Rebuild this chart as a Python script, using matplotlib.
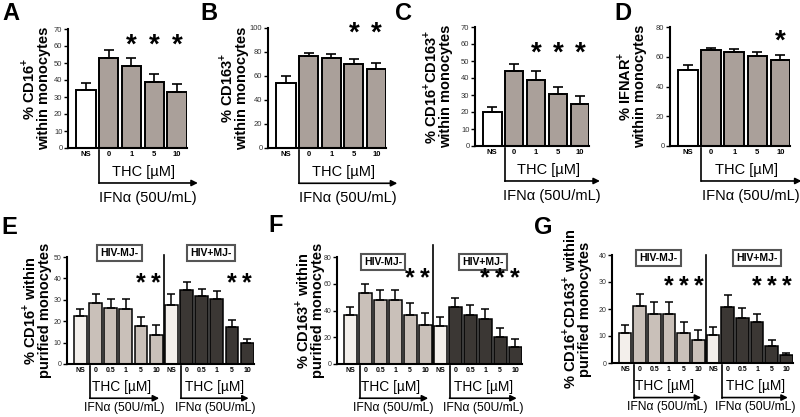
import numpy as np
import matplotlib
matplotlib.use('Agg')
import matplotlib.pyplot as plt
from matplotlib.transforms import ScaledTranslation, blended_transform_factory

plt.rcParams['font.family'] = ['Liberation Sans', 'DejaVu Sans']
plt.rcParams['mathtext.fontset'] = 'custom'
plt.rcParams['mathtext.rm'] = 'Liberation Sans'
plt.rcParams['mathtext.bf'] = 'Liberation Sans:bold'

# ---- data ----
top_cats = ['NS', '0', '1', '5', '10']
a_mean = [34, 53, 48, 39, 33]
a_err = [4, 4.5, 5, 4.5, 4.5]
b_mean = [54, 77, 75, 70, 66]
b_err = [6, 2, 3, 4, 5]
c_mean = [20, 44, 39, 30.5, 25]
c_err = [3, 4.5, 5, 4.5, 4.5]
d_mean = [51, 64.5, 63.5, 60.5, 58]
d_err = [3.5, 1.5, 2, 2.5, 3]

bot_cats = ['NS', '0', '0.5', '1', '5', '10']
e_neg = [22.4, 28.6, 26.4, 25.9, 17.7, 13.5]
e_neg_err = [3.5, 4.3, 4.2, 4.4, 4.3, 4.7]
e_pos = [27.8, 34.5, 31.8, 30.6, 17.4, 9.6]
e_pos_err = [4.8, 3.9, 3.4, 3.4, 3.1, 1.9]
f_neg = [36.5, 53.2, 48.2, 47.7, 36.5, 29]
f_neg_err = [6.4, 6.4, 7.5, 8, 9.2, 9.3]
f_pos = [28.3, 42.7, 36.5, 34, 20.4, 12.9]
f_pos_err = [7, 7, 7.5, 7, 6.2, 5.5]
g_neg = [11.1, 21, 18.3, 18.1, 11.1, 8.4]
g_neg_err = [2.8, 4.5, 4.3, 4.6, 4.1, 3.7]
g_pos = [10.3, 20.8, 16.7, 15.1, 6.4, 3.1]
g_pos_err = [3.1, 4.3, 3.5, 3, 2, 0.7]

W, H = 800, 417
fig = plt.figure(figsize=(W / 100, H / 100), dpi=100)

TAUPE = '#aaa09a'
PALE = '#f3efeb'
LIGHT = '#c9c0b9'
DARK = '#3b3734'


def px(x0, top, x1, bottom):
    return [x0 / W, 1 - bottom / H, (x1 - x0) / W, (bottom - top) / H]


def style_axes(ax, ymax, ystep, tick_fs, gap, ylabel):
    for s in ['top', 'right']:
        ax.spines[s].set_visible(False)
    for s in ['left', 'bottom']:
        ax.spines[s].set_linewidth(1.5)
    ax.set_ylim(0, ymax)
    ax.set_yticks(np.arange(0, ymax + 0.1, ystep))
    ax.tick_params(axis='y', length=3, width=1, labelsize=tick_fs, labelcolor='#333', pad=1)
    ax.tick_params(axis='x', length=0, pad=2.5)
    ax.set_ylabel(ylabel, fontsize=10.5, fontweight='bold', linespacing=0.95)
    ax.yaxis.set_label_coords(0, 0.5, transform=ax.transAxes + ScaledTranslation(-gap / 100, 0, fig.dpi_scale_trans))


def stars(ax, xs, y, fs):
    for xi in xs:
        ax.annotate('*', (xi, y), xytext=(0, -2), textcoords='offset points',
                    ha='center', va='center', fontsize=fs, fontweight='bold')


def arrow(ax, x0, x1, y, thc_x, thc_y, ifn_x, ifn_y, thc_fs, ifn_fs):
    bl = blended_transform_factory(ax.transData, ax.transAxes)
    ax.plot([x0, x0], [-0.02, y], transform=bl, color='k', lw=1.2, clip_on=False)
    ax.annotate('', xy=(x1, y), xytext=(x0, y), xycoords=('data', 'axes fraction'),
                arrowprops=dict(arrowstyle='-|>', color='k', lw=1.2, mutation_scale=9,
                                shrinkA=0, shrinkB=0))
    ax.text(thc_x, thc_y, 'THC [µM]', transform=bl, ha='center', va='center', fontsize=thc_fs)
    ax.text(ifn_x, ifn_y, 'IFNα (50U/mL)', transform=bl, ha='center', va='center', fontsize=ifn_fs)


def top_panel(rect, means, errs, ymax, ystep, ylabel, star_idx, star_y, letter, lxy, gap):
    ax = fig.add_axes(px(*rect))
    x = np.arange(len(top_cats))
    ax.bar(x, means, width=0.85, color=['white'] + [TAUPE] * 4, edgecolor='black', linewidth=1.4, zorder=2)
    ax.errorbar(x, means, yerr=[np.zeros(len(x)), errs], fmt='none', ecolor='black',
                elinewidth=1.2, capsize=3.5, capthick=1.2, zorder=3)
    ax.set_xlim(-0.79, 4.42)
    ax.set_xticks(x, top_cats, fontsize=5.5, fontweight='bold')
    style_axes(ax, ymax, ystep, 5.5, gap, ylabel)
    stars(ax, star_idx, star_y, 20)
    arrow(ax, 0.57, 4.92, -0.294, 2.55, -0.2, 2.73, -0.42, 10.5, 10.5)
    fig.text(lxy[0] / W, 1 - lxy[1] / H, letter, fontsize=17, fontweight='bold', va='top', ha='left')
    return ax


def bottom_panel(rect, g1, e1, g2, e2, ymax, ystep, ylabel, star_idx, star_y, box_x, box_y, sep_top,
                 letter, lxy, gap):
    ax = fig.add_axes(px(*rect))
    means = list(g1) + list(g2)
    errs = list(e1) + list(e2)
    x = np.arange(len(means))
    cols = [PALE] + [LIGHT] * 5 + [PALE] + [DARK] * 5
    ax.bar(x, means, width=0.85, color=cols, edgecolor='black', linewidth=1.1, zorder=2)
    ax.errorbar(x, means, yerr=[np.zeros(len(x)), errs], fmt='none', ecolor='black',
                elinewidth=1.1, capsize=2.8, capthick=1.1, zorder=3)
    ax.set_xlim(-0.88, 11.45)
    ax.set_xticks(x, bot_cats * 2, fontsize=5, fontweight='bold')
    style_axes(ax, ymax, ystep, 5, gap, ylabel)
    ax.axvline(5.5, 0, sep_top, color='k', lw=1.2, clip_on=False)
    bl = blended_transform_factory(ax.transData, ax.transAxes)
    for bx, txt in zip(box_x, ['HIV-MJ-', 'HIV+MJ-']):
        ax.text(bx, box_y, txt, transform=bl, ha='center', va='center', fontsize=7.5,
                fontweight='bold', bbox=dict(boxstyle='square,pad=0.3', fc='white', ec='#555', lw=1.5))
    stars(ax, star_idx, star_y, 18)
    arrow(ax, 0.62, 5.2, -0.32, 2.7, -0.215, 2.9, -0.41, 9.9, 8.7)
    arrow(ax, 6.62, 11.1, -0.32, 8.88, -0.215, 8.9, -0.41, 9.9, 8.7)
    fig.text(lxy[0] / W, 1 - lxy[1] / H, letter, fontsize=17, fontweight='bold', va='top', ha='left')
    return ax


top_panel((68, 29, 186.5, 148), a_mean, a_err, 70, 10, '% CD16$^{\\mathbf{+}}$\nwithin monocytes',
          [2, 3, 4], 62, 'A', (2, 2), 17)
top_panel((268, 28, 386, 148), b_mean, b_err, 100, 20, '% CD163$^{\\mathbf{+}}$\nwithin monocytes',
          [3, 4], 98, 'B', (200, 2), 19)
top_panel((475, 27, 589, 146), c_mean, c_err, 70, 10,
          '% CD16$^{\\mathbf{+}}$CD163$^{\\mathbf{+}}$\nwithin monocytes', [2, 3, 4], 56, 'C', (395, 2), 22)
top_panel((670, 27, 790, 146), d_mean, d_err, 80, 20, '% IFNAR$^{\\mathbf{+}}$\nwithin monocytes',
          [4], 72, 'D', (614, 2), 23)

bottom_panel((67, 257, 254, 364), e_neg, e_neg_err, e_pos, e_pos_err, 50, 10,
             '% CD16$^{\\mathbf{+}}$ within\npurified monocytes', [4, 5, 10, 11], 39,
             (2.57, 8.6), 1.04, 1.02, 'E', (1, 216), 15)
bottom_panel((337, 257, 522, 364), f_neg, f_neg_err, f_pos, f_pos_err, 80, 20,
             '% CD163$^{\\mathbf{+}}$ within\npurified monocytes', [4, 5, 9, 10, 11], 66.5,
             (2.2, 8.87), 0.95, 1.11, 'F', (268, 214), 12)
bottom_panel((612, 255, 793, 363), g_neg, g_neg_err, g_pos, g_pos_err, 40, 10,
             '% CD16$^{\\mathbf{+}}$CD163$^{\\mathbf{+}}$ within\npurified monocytes', [3, 4, 5, 9, 10, 11], 29.6,
             (2.3, 9.0), 0.97, 1.0, 'G', (534, 216), 20)

fig.savefig('out.png', dpi=100)
